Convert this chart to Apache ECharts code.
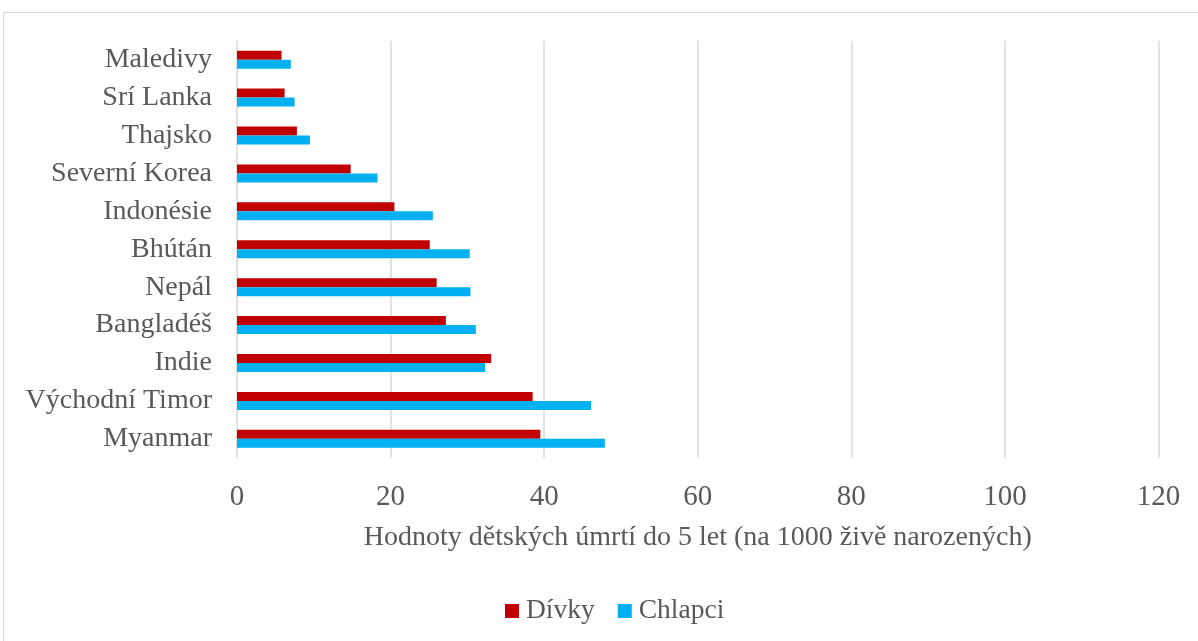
<!DOCTYPE html>
<html>
<head>
<meta charset="utf-8">
<script src="https://cdn.jsdelivr.net/npm/echarts@6/dist/echarts.min.js"></script>
<style>
  html, body { margin: 0; padding: 0; background: #fff; }
  #chart { width: 1198px; height: 641px; }
</style>
</head>
<body>
<div id="chart"></div>
<script>
// Under-5 child mortality per 1000 live births, by sex
const countries = ['Maledivy', 'Srí Lanka', 'Thajsko', 'Severní Korea', 'Indonésie', 'Bhútán',
                   'Nepál', 'Bangladéš', 'Indie', 'Východní Timor', 'Myanmar'];
const girls = [5.8, 6.2, 7.8, 14.8, 20.5, 25.1, 26.0, 27.2, 33.1, 38.5, 39.5];
const boys  = [7.0, 7.5, 9.5, 18.3, 25.5, 30.3, 30.4, 31.1, 32.3, 46.1, 47.9];
const seriesNames = ['Dívky', 'Chlapci'];
const axisTitle = 'Hodnoty dětských úmrtí do 5 let (na 1000 živě narozených)';

const textColor = '#595959';
const font = '"Liberation Serif", "Times New Roman", serif';

const chart = echarts.init(document.getElementById('chart'), null, { renderer: 'canvas' });
chart.setOption({
  animation: false,
  backgroundColor: '#ffffff',
  textStyle: { fontFamily: font, color: textColor },
  graphic: [{
    type: 'rect',
    shape: { x: 3.5, y: 12.5, width: 1300, height: 700 },
    style: { fill: 'none', stroke: '#d9d9d9', lineWidth: 1 },
    silent: true
  }],
  legend: {
    data: seriesNames,
    left: 500,
    top: 592,
    itemWidth: 14,
    itemHeight: 14,
    itemGap: 23,
    icon: 'rect',
    textStyle: { fontFamily: font, fontSize: 27.5, color: textColor, padding: [0, 0, 0, 2] }
  },
  grid: { left: 237, right: 39.5, top: 40.75, height: 417, containLabel: false },
  xAxis: {
    type: 'value',
    min: 0,
    max: 120,
    interval: 20,
    name: axisTitle,
    nameLocation: 'middle',
    nameGap: 66,
    nameTextStyle: { fontFamily: font, fontSize: 28, color: textColor },
    axisLine: { show: false },
    axisTick: { show: false },
    axisLabel: { fontFamily: font, fontSize: 29, color: textColor, margin: 25 },
    splitLine: { show: true, lineStyle: { color: '#d9d9d9', width: 1.5 } }
  },
  yAxis: {
    type: 'category',
    data: countries,
    inverse: true,
    axisLine: { show: false },
    axisTick: { show: false },
    axisLabel: { fontFamily: font, fontSize: 28, color: textColor, margin: 25, padding: [3, 0, 0, 0] }
  },
  series: [
    {
      name: seriesNames[0],
      type: 'bar',
      data: girls,
      barWidth: 9,
      barGap: '0%',
      itemStyle: { color: '#C00000' }
    },
    {
      name: seriesNames[1],
      type: 'bar',
      data: boys,
      barWidth: 9,
      barGap: '0%',
      itemStyle: { color: '#00B0F0' }
    }
  ]
});
</script>
</body>
</html>
